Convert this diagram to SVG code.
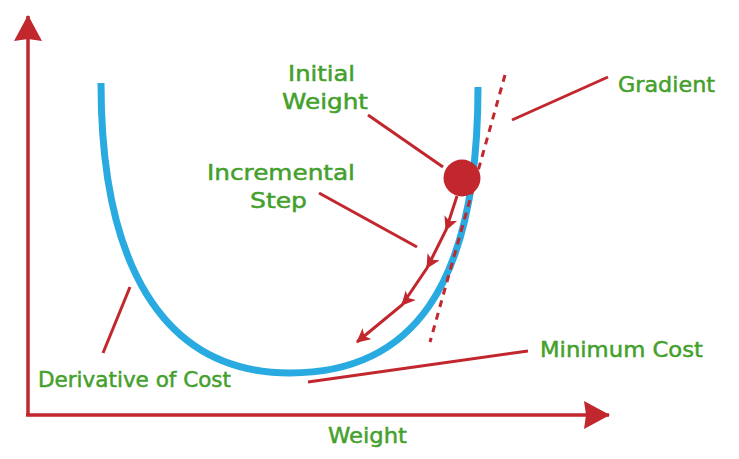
<svg xmlns="http://www.w3.org/2000/svg" width="739" height="459" viewBox="0 0 739 459">
<defs>
<style>
.lbl{font-family:"DejaVu Sans","Open Sans",sans-serif;font-weight:normal;font-size:22px;fill:#44a02c;stroke:#44a02c;stroke-width:0.5}
.red{stroke:#c1272d;stroke-width:3;fill:none;stroke-linecap:butt}
.axis{stroke:#c1272d;stroke-width:3.5;fill:none}
</style>
<marker id="ah" viewBox="0 0 14 14" refX="13" refY="7" markerWidth="14" markerHeight="14" markerUnits="userSpaceOnUse" orient="auto">
<path d="M0,0 L14,7 L0,14 L3.5,7 Z" fill="#c1272d"/>
</marker>
<marker id="axh" viewBox="0 0 26 28" refX="25" refY="14" markerWidth="26" markerHeight="28" markerUnits="userSpaceOnUse" orient="auto">
<path d="M0,0 L26,14 L0,28 L2,14 Z" fill="#c1272d"/>
</marker>
</defs>
<rect width="739" height="459" fill="#ffffff"/>
<g id="axes">
<line class="axis" x1="28" y1="416" x2="28" y2="16" marker-end="url(#axh)"/>
<line class="axis" x1="26" y1="415" x2="609" y2="415" marker-end="url(#axh)"/>
</g>
<g id="curve">
<path d="M101,83 C101,260 160,373 290,373 C410,373 478,290 478,87" fill="none" stroke="#29abe2" stroke-width="7"/>
</g>
<g id="gradient-line">
<line x1="505" y1="75" x2="430" y2="342" stroke="#c1272d" stroke-width="3" stroke-dasharray="7,6"/>
</g>
<g id="connectors">
<line class="red" x1="608" y1="77" x2="512" y2="120"/>
<line class="red" x1="368" y1="115" x2="443" y2="167"/>
<line class="red" x1="319" y1="193" x2="417" y2="247"/>
<line class="red" x1="528" y1="351" x2="308" y2="382"/>
<line class="red" x1="130" y1="287" x2="103" y2="353"/>
<polyline class="red" points="457,196 446,230 427,268 402,305 357,342" marker-mid="url(#ah)" marker-end="url(#ah)"/>
</g>
<g id="initial-weight-point">
<circle cx="462" cy="178" r="18.5" fill="#c1272d"/>
</g>
<g id="labels">
<text class="lbl" x="288" y="81" textLength="67" lengthAdjust="spacingAndGlyphs">Initial</text>
<text class="lbl" x="282" y="109" textLength="86" lengthAdjust="spacingAndGlyphs">Weight</text>
<text class="lbl" x="207" y="180" textLength="148" lengthAdjust="spacingAndGlyphs">Incremental</text>
<text class="lbl" x="250" y="208" textLength="57" lengthAdjust="spacingAndGlyphs">Step</text>
<text class="lbl" x="618" y="92" textLength="97" lengthAdjust="spacingAndGlyphs">Gradient</text>
<text class="lbl" x="540" y="357" textLength="163" lengthAdjust="spacingAndGlyphs">Minimum Cost</text>
<text class="lbl" x="38" y="387" textLength="193" lengthAdjust="spacingAndGlyphs">Derivative of Cost</text>
<text class="lbl" x="328" y="443" textLength="79" lengthAdjust="spacingAndGlyphs">Weight</text>
</g>
</svg>
